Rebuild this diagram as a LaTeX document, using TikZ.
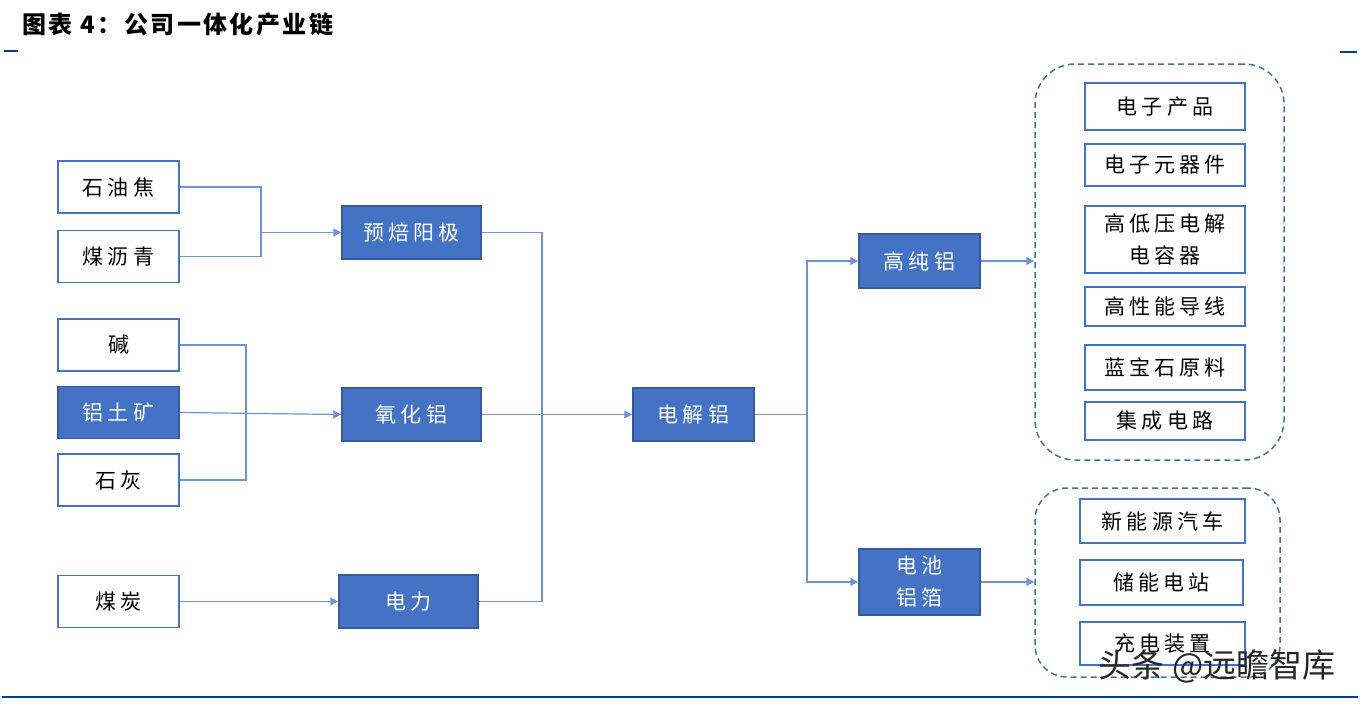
\documentclass[tikz,border=0pt]{standalone}
\usepackage{fontspec}
\usetikzlibrary{arrows.meta}
\newfontfamily\cjk[LetterSpace=20]{Noto Sans CJK SC}
\newfontfamily\titlefont[LetterSpace=10]{Noto Sans CJK SC}
\newfontfamily\wmfont{Noto Sans CJK SC}
\definecolor{boxblue}{HTML}{4472C4}
\definecolor{lineblue}{HTML}{6F93D6}
\definecolor{dashblue}{HTML}{41719C}
\definecolor{rulenavy}{HTML}{003E8E}

\begin{document}
\begin{tikzpicture}[x=1pt,y=-1pt,
    rawbox/.style={draw=boxblue,line width=1.5pt,fill=white,text=black,inner sep=0pt,
      minimum width=121pt,minimum height=52pt,align=center,
      font=\cjk\fontsize{21}{32}\selectfont},
    procbox/.style={rawbox,fill=boxblue,draw=boxblue!80!black,text=white},
    usebox/.style={rawbox,minimum width=160pt},
    groupbox/.style={draw=dashblue,line width=1.5pt,dash pattern=on 6pt off 4pt,
      rounded corners=40pt,inner sep=0pt},
    link/.style={draw=lineblue,line width=1.2pt},
    arrow/.style={link,-{Triangle[length=8pt,width=8pt]}},
    rule/.style={draw=rulenavy,line width=2.5pt}]
  \useasboundingbox (0,0) rectangle (1363,704);

  % title and rules
  \node[anchor=west,font=\titlefont\bfseries\fontsize{24}{24}\selectfont] (title) at (19,24) {图表 4：公司一体化产业链};
  \draw[rule] (4,51) -- (18,51);
  \draw[rule] (1340,52) -- (1357,52);
  \draw[rule] (2,697) -- (1358,697);

  % raw materials
  \node[rawbox] (syj) at (118.5,187) {石油焦};
  \node[rawbox] (lq) at (118.5,256.5) {煤沥青};
  \node[rawbox] (jian) at (118.5,345) {碱};
  \node[procbox] (ltk) at (118.5,412.5) {铝土矿};
  \node[rawbox] (sh) at (118.5,480) {石灰};
  \node[rawbox] (mt) at (118.5,601.5) {煤炭};

  % intermediate products
  \node[procbox,minimum width=139pt,minimum height=53pt] (ybyj) at (411.5,232.5) {预焙阳极};
  \node[procbox,minimum width=139pt,minimum height=53pt] (yhl) at (411.5,414.5) {氧化铝};
  \node[procbox,minimum width=139pt,minimum height=53pt] (dl) at (408.5,601.5) {电力};
  \node[procbox,minimum height=53pt] (djl) at (693.5,414.5) {电解铝};
  \node[procbox,minimum height=54pt] (gcl) at (919.5,261) {高纯铝};
  \node[procbox,minimum height=66pt] (dclb) at (919.5,582) {电池\\铝箔};

  % application groups
  \node[groupbox,minimum width=249pt,minimum height=396pt] (grpa) at (1159.5,262) {};
  \node[groupbox,rounded corners=32pt,minimum width=245pt,minimum height=189pt] (grpb) at (1157.5,582.5) {};

  \node[usebox,minimum height=47pt] (dzcp) at (1165,106.5) {电子产品};
  \node[usebox,minimum height=42pt] (dzyqj) at (1165,165) {电子元器件};
  \node[usebox,minimum height=67pt] (drq) at (1165,239.5) {高低压电解\\电容器};
  \node[usebox,minimum height=39pt] (dx) at (1165,306.5) {高性能导线};
  \node[usebox,minimum height=45pt] (lbs) at (1165,367.5) {蓝宝石原料};
  \node[usebox,minimum height=38pt] (jcdl) at (1165,421) {集成电路};

  \node[usebox,minimum width=165pt,minimum height=44pt] (xny) at (1162.5,521) {新能源汽车};
  \node[usebox,minimum width=163pt,minimum height=45pt] (cndz) at (1161.5,582.5) {储能电站};
  \node[usebox,minimum width=165pt,minimum height=43pt] (cdzz) at (1162.5,643.5) {充电装置};

  % connectors
  \coordinate (ja) at (261,232.5);
  \coordinate (jb) at (246,412.5);
  \coordinate (jc) at (542,414.5);
  \coordinate (jd) at (807,414.5);

  \draw[link] (syj.east) -| (ja) |- (lq.east);
  \draw[arrow] (ja) -- (ybyj.west);
  \draw[link] (jian.east) -| (jb) |- (sh.east);
  \draw[arrow] (ltk.east) -- (yhl.west);
  \draw[arrow] (mt.east) -- (dl.west);
  \draw[link] (ybyj.east) -| (jc) |- (dl.east);
  \draw[arrow] (yhl.east) -- (djl.west);
  \draw[link] (djl.east) -- (jd);
  \draw[arrow] (jd) |- (gcl.west);
  \draw[arrow] (jd) |- (dclb.west);
  \draw[arrow] (gcl.east) -- (gcl.east -| grpa.west);
  \draw[arrow] (dclb.east) -- (dclb.east -| grpb.west);

  % watermark
  \node[font=\wmfont\fontsize{33}{33}\selectfont,text=black!85] (wm) at (1217,666) {头条 @远瞻智库};
\end{tikzpicture}
\end{document}
